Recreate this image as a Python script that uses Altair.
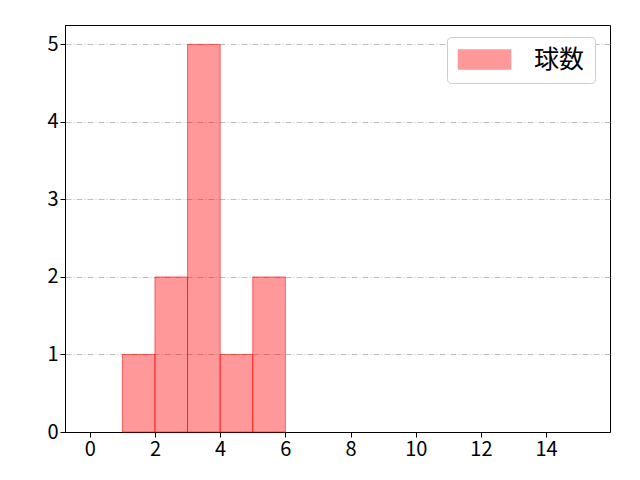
import altair as alt
import pandas as pd

bin_start = [1, 2, 3, 4, 5]
bin_end = [2, 3, 4, 5, 6]
counts = [1, 2, 5, 1, 2]
series = ["球数"] * 5
x_ticks = [0, 2, 4, 6, 8, 10, 12, 14]
y_ticks = [0, 1, 2, 3, 4, 5]

df = pd.DataFrame({"start": bin_start, "end": bin_end, "count": counts, "series": series})

font = "Noto Sans CJK JP"

chart = alt.Chart(df).mark_bar(
    fillOpacity=0.4, strokeOpacity=0.55, strokeWidth=1, stroke="#ff0000"
).encode(
    x=alt.X("start:Q", scale=alt.Scale(domain=[-0.76, 15.96], nice=False, zero=False),
            axis=alt.Axis(values=x_ticks, title=None, grid=False, format="d")),
    x2="end:Q",
    y=alt.Y("count:Q", scale=alt.Scale(domain=[0, 5.25], nice=False),
            axis=alt.Axis(values=y_ticks, title=None, grid=True, format="d",
                          gridColor="#b0b0b0", gridDash=[6, 2, 1, 2], gridWidth=0.8)),
    y2=alt.datum(0),
    color=alt.Color("series:N", scale=alt.Scale(range=["#ff0000"]),
                    legend=alt.Legend(title=None, orient="none", legendX=382, legendY=12,
                                      symbolType="M-2.74,-1H2.74V1H-2.74Z", symbolSize=361,
                                      symbolOffset=15, symbolOpacity=0.4, symbolStrokeColor="#ff0000",
                                      labelFontSize=25, labelFont=font, labelColor="#000000",
                                      padding=10, strokeColor="#cccccc", cornerRadius=4,
                                      fillColor="#ffffff", labelOffset=37)),
).properties(
    width=545, height=407,
    autosize=alt.AutoSizeParams(type="none"),
    padding={"left": 57, "top": 17, "right": 22, "bottom": 40},
).configure_view(
    stroke="#000000", strokeWidth=1
).configure_axis(
    labelFont=font, labelFontSize=20, labelColor="#000000",
    domain=True, domainColor="#000000", domainWidth=1,
    tickColor="#000000", tickSize=5, tickWidth=1, labelPadding=2,
)

chart.save("out.html", embed_options={"renderer": "svg", "actions": False})
